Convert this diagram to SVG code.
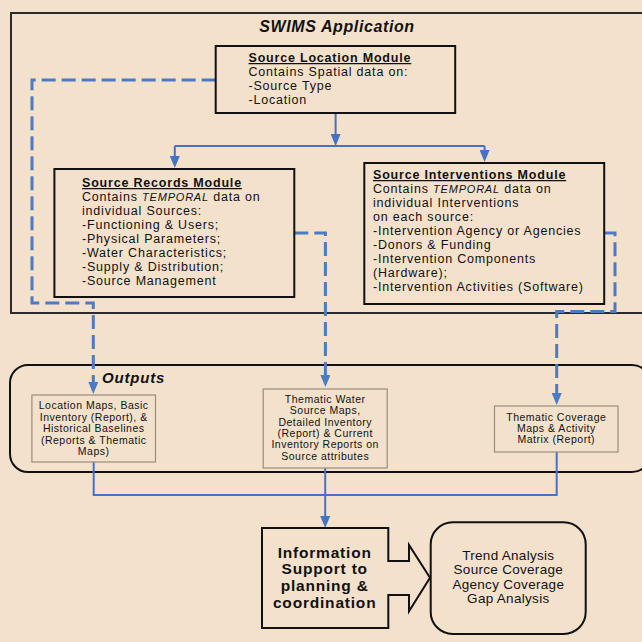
<svg xmlns="http://www.w3.org/2000/svg" width="642" height="642" viewBox="0 0 642 642">
<style>
.frame{fill:none;stroke:#2b2b2b;stroke-width:2}
.mod{fill:none;stroke:#111;stroke-width:2}
.out{fill:none;stroke:#9c8c7c;stroke-width:1.2}
.t{font-family:"Liberation Sans",Arial,sans-serif;font-size:12.5px;letter-spacing:0.8px;fill:#111}
.h{font-weight:bold;text-decoration:underline}
.it{font-style:italic;font-size:11px}
.ot{font-family:"Liberation Sans",Arial,sans-serif;font-size:10.5px;letter-spacing:0.5px;fill:#111;text-anchor:middle}
.bi{font-family:"Liberation Sans",Arial,sans-serif;font-weight:bold;font-style:italic;fill:#111}
.dash{fill:none;stroke:#4A7BC4;stroke-width:3;stroke-dasharray:14 6}
.solid{fill:none;stroke:#4472C4;stroke-width:2}
</style>
<defs>
<marker id="ah" viewBox="0 0 12 10" refX="0" refY="5" markerWidth="12" markerHeight="10" markerUnits="userSpaceOnUse" orient="auto">
<path d="M0,0 L12,5 L0,10 z" fill="#4472C4"/>
</marker>
<marker id="ahd" viewBox="0 0 12 10" refX="0" refY="5" markerWidth="12" markerHeight="10" markerUnits="userSpaceOnUse" orient="auto">
<path d="M0,0 L12,5 L0,10 z" fill="#4A7BC4"/>
</marker>
</defs>
<rect x="0" y="0" width="642" height="642" fill="#F3E1CC"/>

<g id="swims-app">
<rect class="frame" x="11" y="13" width="640" height="300"/>
<text class="bi" x="337" y="32" font-size="16" letter-spacing="0.6" text-anchor="middle">SWIMS Application</text>
</g>

<g id="outputs-group">
<rect x="10" y="365" width="640" height="107" rx="18" fill="none" stroke="#111" stroke-width="2"/>
<text class="bi" x="102" y="383" font-size="15" letter-spacing="0.8">Outputs</text>
</g>

<g id="connectors">
<path class="dash" d="M215.7,80 H32 V303 H93.3 V382" marker-end="url(#ahd)"/>
<path class="dash" d="M294.3,233 H325.4 V375" marker-end="url(#ahd)"/>
<path class="dash" d="M604.2,233 H615 V311.5 H556.7 V393" marker-end="url(#ahd)"/>
<path class="solid" d="M335.6,113 V134" marker-end="url(#ah)"/>
<path class="solid" d="M174.8,146 H484.6"/>
<path class="solid" d="M174.8,146 V156" marker-end="url(#ah)"/>
<path class="solid" d="M484.6,146 V150" marker-end="url(#ah)"/>
<path class="solid" d="M93.7,462 V495 H556.7 V452"/>
<path class="solid" stroke-width="3" d="M325.2,468 V516" marker-end="url(#ah)"/>
</g>

<g id="source-location">
<rect class="mod" x="215.7" y="46" width="239.5" height="67"/>
<text class="t h" x="248.5" y="62">Source Location Module</text>
<text class="t" x="248.5" y="76">Contains Spatial data on:</text>
<text class="t" x="248.5" y="90">-Source Type</text>
<text class="t" x="248.5" y="104">-Location</text>
</g>

<g id="source-records">
<rect class="mod" x="54.4" y="169" width="239.9" height="128"/>
<text class="t h" x="82" y="187">Source Records Module</text>
<text class="t" x="82" y="201">Contains <tspan class="it">TEMPORAL</tspan> data on</text>
<text class="t" x="82" y="215">individual Sources:</text>
<text class="t" x="82" y="229">-Functioning &amp; Users;</text>
<text class="t" x="82" y="243">-Physical Parameters;</text>
<text class="t" x="82" y="257">-Water Characteristics;</text>
<text class="t" x="82" y="271">-Supply &amp; Distribution;</text>
<text class="t" x="82" y="285">-Source Management</text>
</g>

<g id="source-interventions">
<rect class="mod" x="364.3" y="163" width="239.9" height="141"/>
<text class="t h" x="373" y="179">Source Interventions Module</text>
<text class="t" x="373" y="193">Contains <tspan class="it">TEMPORAL</tspan> data on</text>
<text class="t" x="373" y="207">individual Interventions</text>
<text class="t" x="373" y="221">on each source:</text>
<text class="t" x="373" y="235">-Intervention Agency or Agencies</text>
<text class="t" x="373" y="249">-Donors &amp; Funding</text>
<text class="t" x="373" y="263">-Intervention Components</text>
<text class="t" x="373" y="277">(Hardware);</text>
<text class="t" x="373" y="291">-Intervention Activities (Software)</text>
</g>

<g id="output-location">
<rect class="out" x="31.9" y="395" width="123.6" height="67"/>
<text class="ot" x="93.7" y="409">Location Maps, Basic</text>
<text class="ot" x="93.7" y="420.5">Inventory (Report), &amp;</text>
<text class="ot" x="93.7" y="432">Historical Baselines</text>
<text class="ot" x="93.7" y="443.5">(Reports &amp; Thematic</text>
<text class="ot" x="93.7" y="455">Maps)</text>
</g>

<g id="output-water">
<rect class="out" x="263.2" y="389" width="124" height="79"/>
<text class="ot" x="325.2" y="403">Thematic Water</text>
<text class="ot" x="325.2" y="414.3">Source Maps,</text>
<text class="ot" x="325.2" y="425.6">Detailed Inventory</text>
<text class="ot" x="325.2" y="436.9">(Report) &amp; Current</text>
<text class="ot" x="325.2" y="448.2">Inventory Reports on</text>
<text class="ot" x="325.2" y="459.5">Source attributes</text>
</g>

<g id="output-coverage">
<rect class="out" x="494.5" y="406" width="123.5" height="46"/>
<text class="ot" x="556.3" y="420.5">Thematic Coverage</text>
<text class="ot" x="556.3" y="431.5">Maps &amp; Activity</text>
<text class="ot" x="556.3" y="442.5">Matrix (Report)</text>
</g>

<g id="information-support">
<path d="M262,528 H388.3 V561 H409 V545 L430,577.7 L409,611.3 V595 H388.3 V628 H262 Z" fill="none" stroke="#111" stroke-width="2"/>
<text class="bi" font-style="normal" x="324.7" y="557.5" font-size="15.5" letter-spacing="0.8" text-anchor="middle" style="font-style:normal">Information</text>
<text class="bi" x="324.7" y="574.3" font-size="15.5" letter-spacing="0.8" text-anchor="middle" style="font-style:normal">Support to</text>
<text class="bi" x="324.7" y="591" font-size="15.5" letter-spacing="0.8" text-anchor="middle" style="font-style:normal">planning &amp;</text>
<text class="bi" x="324.7" y="607.8" font-size="15.5" letter-spacing="0.8" text-anchor="middle" style="font-style:normal">coordination</text>
</g>

<g id="analysis">
<rect x="430.7" y="522.3" width="155" height="111.7" rx="22" fill="none" stroke="#111" stroke-width="2"/>
<text class="ot" x="508.3" y="560" font-size="13.5" letter-spacing="0.3" style="font-size:13.5px;letter-spacing:0.3px">Trend Analysis</text>
<text class="ot" x="508.3" y="574.3" style="font-size:13.5px;letter-spacing:0.3px">Source Coverage</text>
<text class="ot" x="508.3" y="588.6" style="font-size:13.5px;letter-spacing:0.3px">Agency Coverage</text>
<text class="ot" x="508.3" y="602.9" style="font-size:13.5px;letter-spacing:0.3px">Gap Analysis</text>
</g>
</svg>
